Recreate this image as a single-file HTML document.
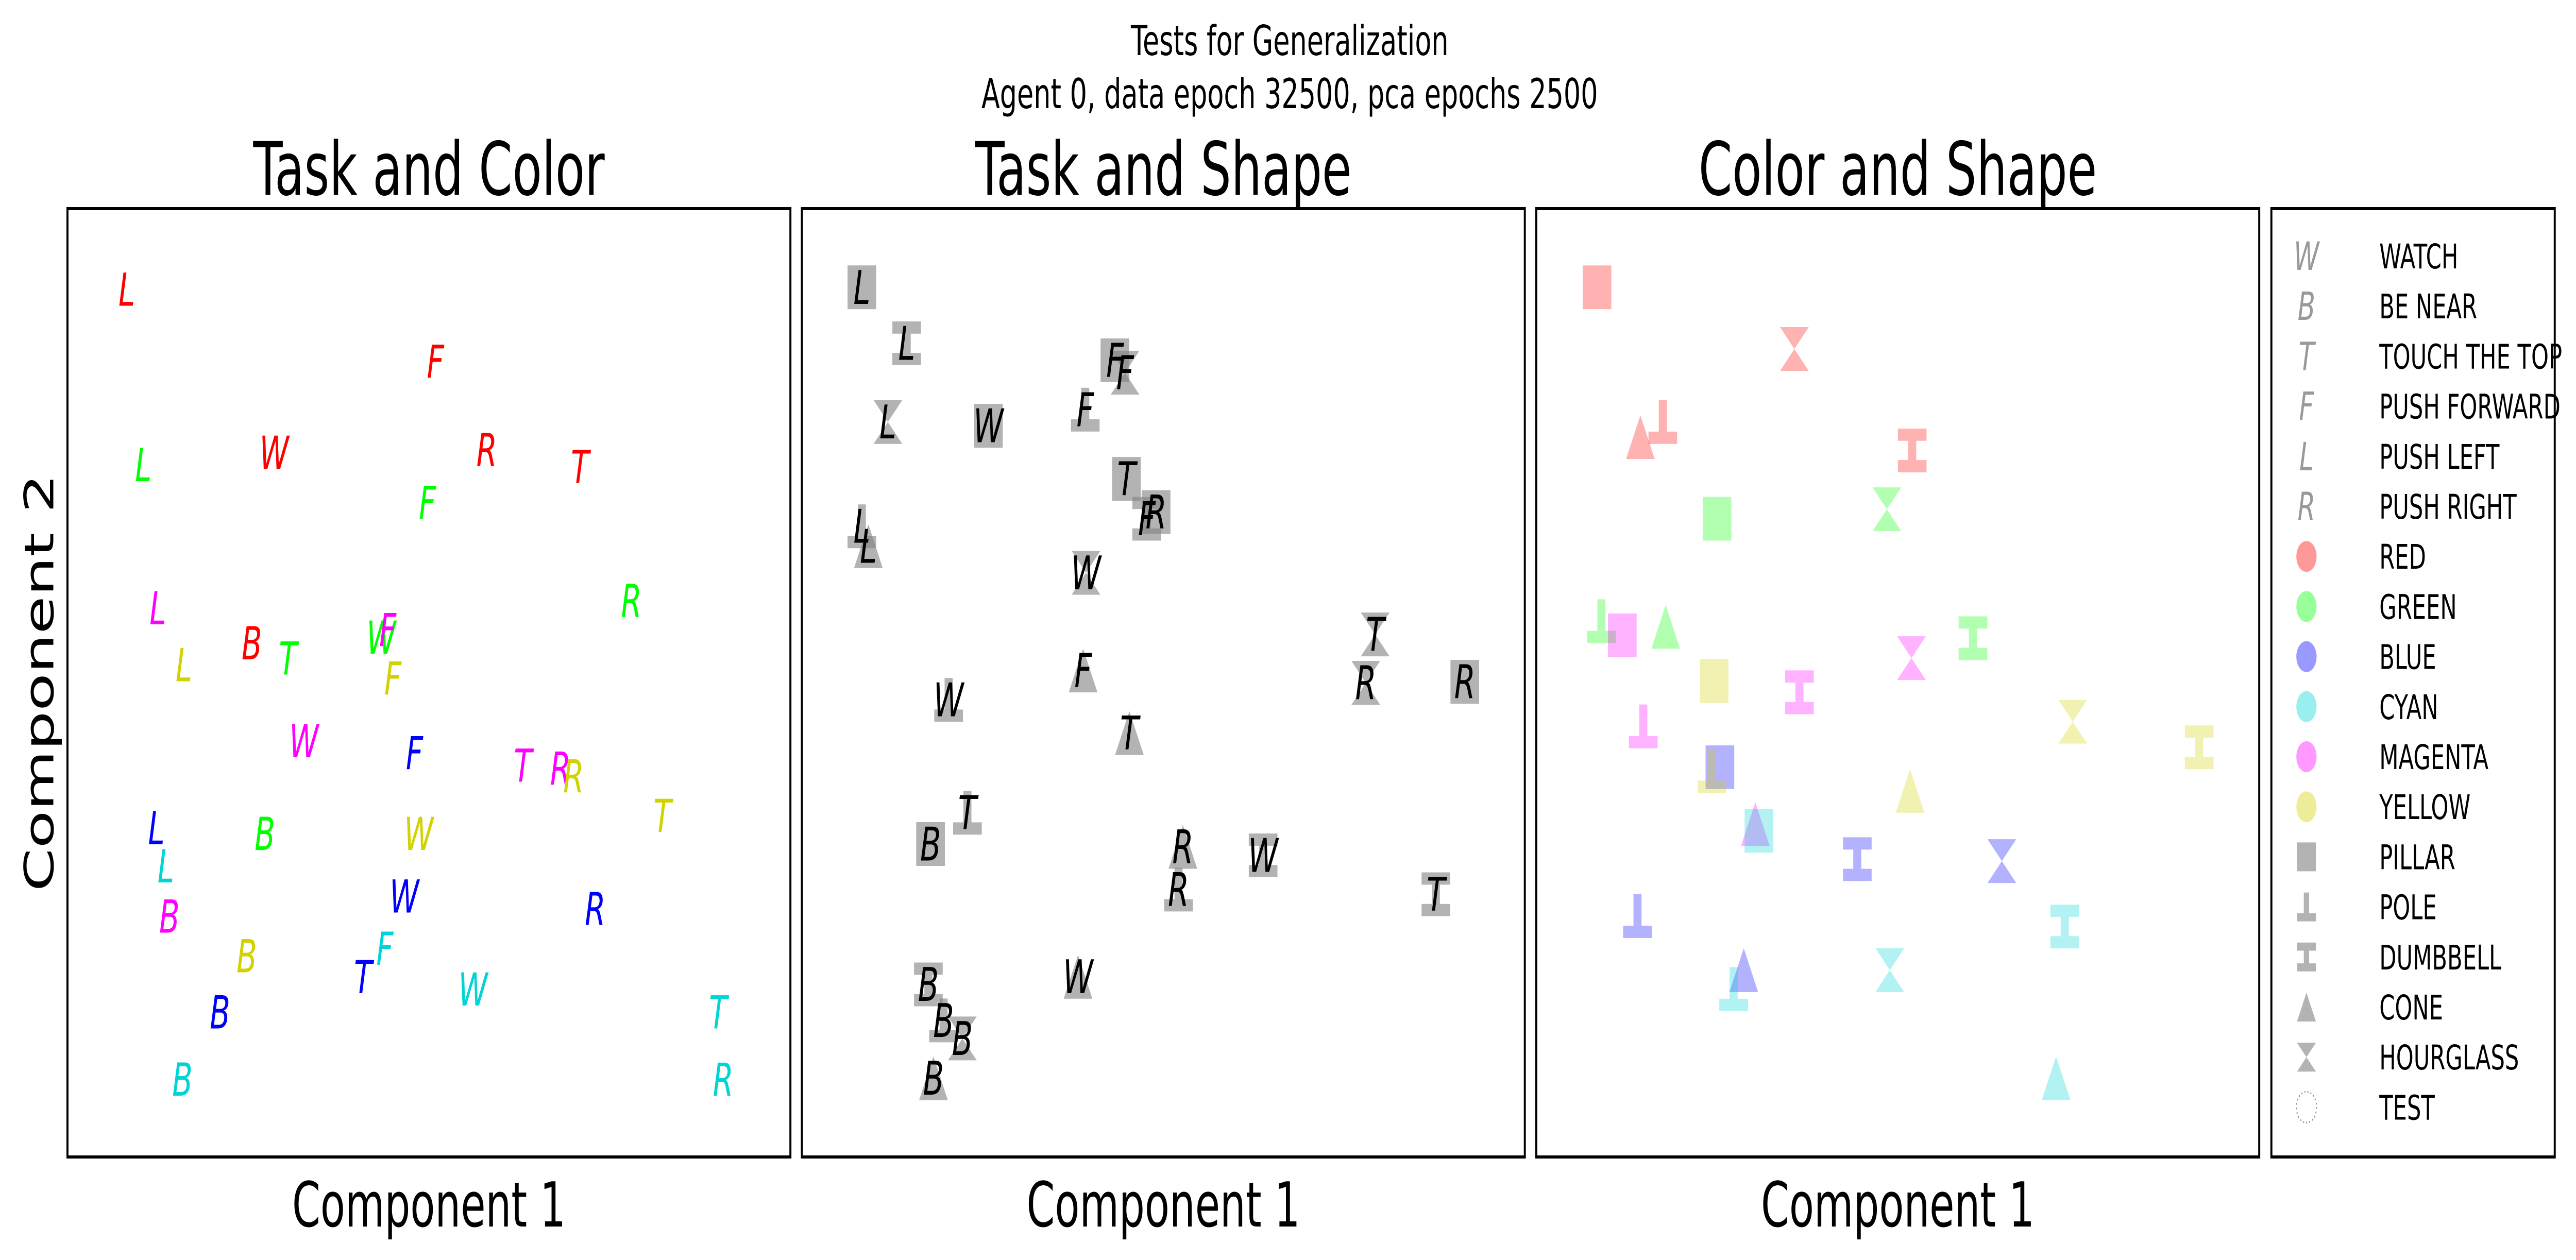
<!DOCTYPE html>
<html><head><meta charset="utf-8"><style>
html,body{margin:0;padding:0;background:#fff;overflow:hidden;width:100vw;height:100vh;}
svg{display:block;width:100vw;height:100vh;}
text{font-family:"DejaVu Sans","Liberation Sans",sans-serif;}
</style></head><body>
<svg id="chart" xmlns="http://www.w3.org/2000/svg" viewBox="0 0 7636 2446" preserveAspectRatio="none">
<rect x="0" y="0" width="7636" height="2446" fill="#fff"/>
<text x="3823" y="107" font-size="80" text-anchor="middle">Tests for Generalization</text>
<text x="3823" y="210" font-size="80" text-anchor="middle">Agent 0, data epoch 32500, pca epochs 2500</text>
<g id="panels"></g>
<g id="legend"></g>
</svg>
<script>
// Panel 1: Task and Color
const p1Tasks = ["L","F","W","R","T","L","F","W","T","B","R","L","F","W","T","R","B","L","F","R","W","T","B","B","L","F","W","R","T","B","L","F","W","T","R","B"];
const p1Colors = ["red","red","red","red","red","green","green","green","green","green","green","magenta","magenta","magenta","magenta","magenta","magenta","yellow","yellow","yellow","yellow","yellow","yellow","red","blue","blue","blue","blue","blue","blue","cyan","cyan","cyan","cyan","cyan","cyan"];
const p1X = [0.82,5.09,2.86,5.80,7.09,1.05,4.98,4.34,3.05,2.73,7.80,1.25,4.43,3.27,6.30,6.82,1.41,1.61,4.50,7.00,4.86,8.23,2.48,2.55,1.23,4.80,4.66,7.30,4.09,2.11,1.36,4.39,5.61,9.00,9.07,1.59];
const p1Y = [9.15,8.39,7.43,7.46,7.28,7.30,6.90,5.48,5.26,3.41,5.87,5.79,5.56,4.39,4.13,4.10,2.54,5.19,5.05,4.02,3.41,3.60,2.12,5.42,3.47,4.26,2.75,2.62,1.90,1.53,3.07,2.20,1.77,1.53,0.82,0.82];
// Panel 2: Task and Shape
const p2Tasks = ["L","L","L","W","F","F","F","T","R","F","L","L","W","T","R","R","W","F","T","T","B","R","W","R","T","W","B","B","B","B"];
const p2Shapes = ["pillar","dumbbell","hourglass","pillar","pillar","hourglass","pole","pillar","pillar","dumbbell","pole","cone","hourglass","hourglass","hourglass","pillar","pole","cone","cone","pole","pillar","cone","dumbbell","pole","dumbbell","cone","dumbbell","pole","hourglass","cone"];
const p2X = [0.83,1.45,1.19,2.58,4.33,4.47,3.92,4.49,4.90,4.77,0.83,0.92,3.93,7.93,7.80,9.17,2.03,3.89,4.53,2.29,1.78,5.27,6.38,5.21,8.77,3.82,1.75,1.96,2.22,1.82];
const p2Y = [9.17,8.58,7.75,7.71,8.40,8.27,7.88,7.15,6.80,6.73,6.65,6.44,6.16,5.51,5.00,5.01,4.82,5.13,4.47,3.63,3.30,3.27,3.18,2.82,2.77,1.90,1.82,1.44,1.25,0.83];
// Panel 3: Color and Shape
const p3Colors = ["red","red","red","red","red","green","green","green","magenta","green","green","magenta","yellow","magenta","magenta","yellow","yellow","blue","yellow","yellow","magenta","cyan","blue","blue","cyan","blue","blue","cyan","cyan","cyan"];
const p3Shapes = ["pillar","hourglass","cone","pole","dumbbell","pillar","hourglass","pole","pillar","cone","dumbbell","hourglass","pillar","dumbbell","pole","hourglass","dumbbell","pillar","pole","cone","cone","pillar","dumbbell","hourglass","dumbbell","pole","cone","pole","hourglass","cone"];
const p3X = [0.84,3.57,1.44,1.75,5.20,2.50,4.85,0.90,1.19,1.79,6.04,5.19,2.46,3.64,1.48,7.42,9.17,2.54,2.43,5.17,3.03,3.08,4.44,6.44,7.31,1.40,2.87,2.73,4.89,7.19];
const p3Y = [9.17,8.52,7.59,7.75,7.45,6.73,6.83,5.65,5.50,5.59,5.47,5.26,5.02,4.90,4.54,4.59,4.32,4.11,4.07,3.86,3.51,3.44,3.14,3.12,2.43,2.54,1.97,1.77,1.97,0.83];

const panelTitles = ["Task and Color","Task and Shape","Color and Shape"];
const legendTasks = [["W","WATCH"],["B","BE NEAR"],["T","TOUCH THE TOP"],["F","PUSH FORWARD"],["L","PUSH LEFT"],["R","PUSH RIGHT"]];
const legendColors = [["red","RED"],["green","GREEN"],["blue","BLUE"],["cyan","CYAN"],["magenta","MAGENTA"],["yellow","YELLOW"]];
const legendShapes = [["pillar","PILLAR"],["pole","POLE"],["dumbbell","DUMBBELL"],["cone","CONE"],["hourglass","HOURGLASS"]];

const NS="http://www.w3.org/2000/svg";
const COL={red:"rgb(255,0,0)",green:"rgb(0,255,0)",blue:"rgb(0,0,255)",cyan:"rgb(0,212,212)",magenta:"rgb(255,0,255)",yellow:"rgb(210,210,0)"};
const PANEL_LEFT=[200,2377,4554], PW=2143, PT=405, PH=1841;
function mk(tag,attrs,parent){const e=document.createElementNS(NS,tag);for(const k in attrs)e.setAttribute(k,attrs[k]);parent.appendChild(e);return e;}
function sx(i,v){return PANEL_LEFT[i]+v/10*PW;}
function sy(v){return PT+PH-v/10*PH;}
function shapePath(s,cx,cy,S){
  const h=S/2,t=S*0.28/2,b=S*0.28;
  if(s==="pillar")return `M${cx-h},${cy-h}h${S}v${S}h${-S}z`;
  if(s==="pole")return `M${cx-t},${cy-h}h${2*t}v${S-b}h${h-t}v${b}h${-S}v${-b}h${h-t}z`;
  if(s==="dumbbell")return `M${cx-h},${cy-h}h${S}v${b}h${-(h-t)}v${S-2*b}h${h-t}v${b}h${-S}v${-b}h${h-t}v${-(S-2*b)}h${-(h-t)}z`;
  if(s==="cone")return `M${cx-h},${cy+h}L${cx},${cy-h}L${cx+h},${cy+h}z`;
  return `M${cx-h},${cy-h}h${S}L${cx},${cy}z M${cx-h},${cy+h}h${S}L${cx},${cy}z`;
}
const panels=document.getElementById("panels");
for(let i=0;i<3;i++){
  const g=mk("g",{},panels);
  
  
  const t=mk("text",{x:PANEL_LEFT[i]+PW/2,y:378,"font-size":143,"text-anchor":"middle"},g);
  t.textContent=panelTitles[i];
  
  
  const xl=mk("text",{x:PANEL_LEFT[i]+PW/2,y:2381,"font-size":120,"text-anchor":"middle"},g);
  xl.textContent="Component 1";
  
  
  const marks=mk("g",{},g);
  
  
  if(i===0){
    for(let k=0;k<p1X.length;k++){
      const e=mk("text",{x:sx(0,p1X[k]),y:sy(p1Y[k])+32,"font-size":88,"font-style":"italic","text-anchor":"middle",fill:COL[p1Colors[k]]},marks);
      e.textContent=p1Tasks[k];
      
      
    }
  } else if(i===1){
    for(let k=0;k<p2X.length;k++){
      const m=mk("path",{d:shapePath(p2Shapes[k],sx(1,p2X[k]),sy(p2Y[k]),85),fill:"rgb(128,128,128)","fill-opacity":0.6},marks);
      
      
    }
    for(let k=0;k<p2X.length;k++){
      const e=mk("text",{x:sx(1,p2X[k]),y:sy(p2Y[k])+32,"font-size":90,"font-style":"italic","text-anchor":"middle",fill:"#000"},marks);
      e.textContent=p2Tasks[k];
      
      
    }
  } else {
    for(let k=0;k<p3X.length;k++){
      const m=mk("path",{d:shapePath(p3Shapes[k],sx(2,p3X[k]),sy(p3Y[k]),85),fill:COL[p3Colors[k]],"fill-opacity":0.3},marks);
      
      
    }
  }
  const fr=mk("rect",{x:PANEL_LEFT[i],y:PT,width:PW,height:PH,fill:"none",stroke:"#000","stroke-width":6},g);
  
  
}
const yl=mk("text",{x:0,y:0,"font-size":120,"text-anchor":"middle",transform:"translate(158,1325) rotate(-90)"},panels);
yl.textContent="Component 2";



const lg=document.getElementById("legend");
const lf=mk("rect",{x:6733,y:PT,width:840,height:PH,fill:"#fff",stroke:"#000","stroke-width":6},lg);


const MX=6837,TX=7053,Y0=497,DY=97.2;
let row=0;
function lgText(label,y){
  const t=mk("text",{x:TX,y:y+24,"font-size":66},lg);
  t.textContent=label;
  
  
}
legendTasks.forEach(([c,l])=>{const y=Y0+DY*row++;
  const s=mk("text",{x:MX,y:y+27,"font-size":76,"font-style":"italic","text-anchor":"middle",fill:"#999"},lg);
  s.textContent=c;
  
  
  lgText(l,y);});
legendColors.forEach(([c,l])=>{const y=Y0+DY*row++;
  const s=mk("circle",{cx:MX,cy:y,r:30,fill:COL[c],"fill-opacity":0.4},lg);
  
  
  lgText(l,y);});
legendShapes.forEach(([c,l])=>{const y=Y0+DY*row++;
  const s=mk("path",{d:shapePath(c,MX,y,56),fill:"#b3b3b3"},lg);
  
  
  lgText(l,y);});
{const y=Y0+DY*row++;
  const s=mk("circle",{cx:MX,cy:y,r:30,fill:"none",stroke:"#888","stroke-width":3,"stroke-dasharray":"3 6"},lg);
  
  
  lgText("TEST",y);}
</script>
</body></html>
